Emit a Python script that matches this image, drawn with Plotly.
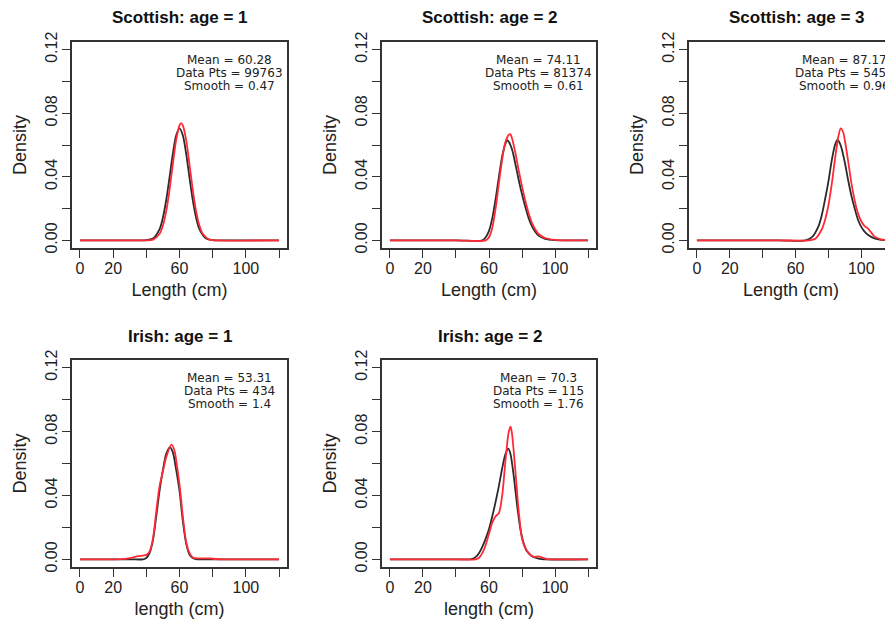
import plotly.graph_objects as go

# ---------------- data ----------------
titles = ["Scottish: age = 1", "Scottish: age = 2", "Scottish: age = 3",
          "Irish: age = 1", "Irish: age = 2"]
xtitles = ["Length (cm)", "Length (cm)", "Length (cm)", "length (cm)", "length (cm)"]
means = ["60.28", "74.11", "87.17", "53.31", "70.3"]
npts = ["99763", "81374", "5456", "434", "115"]
smooths = ["0.47", "0.61", "0.96", "1.4", "1.76"]

x_tickvals = [0, 20, 40, 60, 80, 100, 120]
x_ticktext = ["0", "20", "", "60", "", "100", ""]
y_tickvals = [0.0, 0.02, 0.04, 0.06, 0.08, 0.10, 0.12]
y_ticktext = ["0.00", "", "0.04", "", "0.08", "", "0.12"]

# Scottish age 1
s1_black_x = [0, 30, 40, 44, 48, 50, 52, 54, 56, 58, 60, 62, 64, 66, 68, 70, 72, 76, 80, 90, 120]
s1_black_y = [0, 0, 0.0001, 0.0012, 0.0071, 0.0143, 0.0254, 0.0397, 0.0546, 0.0661, 0.0705,
              0.0661, 0.0546, 0.0397, 0.0254, 0.0143, 0.0071, 0.0012, 0.0001, 0, 0]
s1_red_x = [0, 30, 40, 44, 48, 50, 52, 54, 56, 58, 60, 61, 62, 64, 66, 68, 70, 72, 74, 78, 84, 120]
s1_red_y = [0, 0, 0, 0.0005, 0.0041, 0.0093, 0.0184, 0.0318, 0.0480, 0.0632, 0.0724, 0.0737,
            0.0724, 0.0632, 0.0480, 0.0318, 0.0184, 0.0093, 0.0041, 0.0005, 0, 0]

# Scottish age 2
s2_black_x = [0, 40, 56, 58, 60, 62, 64, 66, 68, 70, 71, 72, 74, 76, 78, 80, 82, 84, 86, 88, 90, 94, 100, 120]
s2_black_y = [0, 0, 0, 0.002, 0.006, 0.014, 0.026, 0.040, 0.053, 0.061, 0.063, 0.062, 0.057, 0.048,
              0.038, 0.029, 0.021, 0.014, 0.009, 0.0055, 0.003, 0.001, 0.0002, 0]
s2_red_x = [0, 40, 58, 60, 62, 64, 66, 68, 70, 72, 73, 74, 76, 78, 80, 82, 84, 86, 88, 90, 94, 100, 120]
s2_red_y = [0, 0, 0, 0.002, 0.008, 0.020, 0.036, 0.051, 0.062, 0.0665, 0.0667, 0.064, 0.055, 0.044,
            0.034, 0.025, 0.017, 0.011, 0.007, 0.004, 0.0015, 0.0003, 0]

# Scottish age 3
s3_black_x = [0, 50, 66, 70, 74, 76, 78, 80, 82, 84, 85.5, 87, 88, 90, 92, 94, 96, 98, 100, 102, 104, 108, 112, 120]
s3_black_y = [0, 0, 0, 0.002, 0.009, 0.016, 0.026, 0.037, 0.050, 0.060, 0.0634, 0.061, 0.058, 0.049,
              0.038, 0.028, 0.020, 0.013, 0.0085, 0.0055, 0.0035, 0.0012, 0.0003, 0]
s3_red_x = [0, 50, 68, 72, 76, 78, 80, 82, 84, 86, 87.5, 89, 90, 92, 94, 96, 98, 100, 102, 104, 106, 108, 112, 116, 120]
s3_red_y = [0, 0, 0, 0.001, 0.007, 0.013, 0.022, 0.035, 0.051, 0.065, 0.0704, 0.068, 0.063, 0.050,
            0.036, 0.025, 0.017, 0.012, 0.009, 0.0075, 0.005, 0.0025, 0.0007, 0.0001, 0]

# Irish age 1
i1_black_x = [0, 30, 38, 40, 42, 44, 46, 48, 50, 52, 54.2, 56, 58, 60, 62, 64, 66, 68, 70, 74, 120]
i1_black_y = [0, 0, 0, 0.0008, 0.004, 0.012, 0.027, 0.043, 0.056, 0.066, 0.0703, 0.067, 0.056,
              0.043, 0.024, 0.010, 0.003, 0.0008, 0.0001, 0, 0]
i1_red_x = [0, 20, 25, 30, 35, 40, 42, 44, 46, 48, 50, 52, 55.2, 57, 58, 60, 62, 64, 66, 68, 72, 78, 82, 86, 120]
i1_red_y = [0, 0, 0.0001, 0.0008, 0.0020, 0.0028, 0.005, 0.013, 0.030, 0.046, 0.055, 0.064, 0.0718,
            0.068, 0.062, 0.047, 0.027, 0.011, 0.004, 0.0012, 0.0006, 0.0006, 0.0002, 0, 0]

# Irish age 2
i2_black_x = [0, 40, 48, 50, 52, 54, 56, 58, 60, 62, 64, 66, 68, 70, 71.7, 73, 75, 77, 79, 81, 83, 86, 90, 95, 120]
i2_black_y = [0, 0, 0, 0.0003, 0.0015, 0.004, 0.008, 0.013, 0.019, 0.027, 0.036, 0.046, 0.057, 0.066,
              0.0693, 0.066, 0.052, 0.034, 0.019, 0.010, 0.005, 0.002, 0.0005, 0, 0]
i2_red_x = [0, 40, 52, 54, 56, 58, 60, 62, 64, 66, 68, 70, 72, 73.1, 74, 76, 78, 80, 82, 84, 86, 88, 90, 92, 95, 98, 120]
i2_red_y = [0, 0, 0, 0.001, 0.004, 0.009, 0.016, 0.023, 0.027, 0.029, 0.040, 0.062, 0.080, 0.083,
            0.078, 0.055, 0.030, 0.013, 0.007, 0.004, 0.002, 0.0015, 0.0019, 0.0012, 0.0002, 0, 0]

black_series = [(s1_black_x, s1_black_y), (s2_black_x, s2_black_y), (s3_black_x, s3_black_y),
                (i1_black_x, i1_black_y), (i2_black_x, i2_black_y)]
red_series = [(s1_red_x, s1_red_y), (s2_red_x, s2_red_y), (s3_red_x, s3_red_y),
              (i1_red_x, i1_red_y), (i2_red_x, i2_red_y)]

# ---------------- layout ----------------
# the page body has an 8px default margin, so the figure is offset by (8, 8)
OFF = 8
W, H = 893 - OFF, 621 - OFF
col_px = [(72 - OFF, 287 - OFF), (382 - OFF, 596 - OFF), (689 - OFF, 893 - OFF)]
row_px = [(42 - OFF, 248 - OFF), (360 - OFF, 567 - OFF)]
panels = [(0, 0), (0, 1), (0, 2), (1, 0), (1, 1)]

FONT = "Liberation Sans, Arial, Helvetica, sans-serif"
AXC = "#333333"

fig = go.Figure()
layout = dict(width=W, height=H, margin=dict(l=0, r=0, t=0, b=0, autoexpand=False),
              paper_bgcolor="white", plot_bgcolor="white", showlegend=False,
              font=dict(family=FONT, color="#222222"))
annotations = []

for i, (r, c) in enumerate(panels):
    k = i + 1
    xa = "xaxis" if k == 1 else f"xaxis{k}"
    ya = "yaxis" if k == 1 else f"yaxis{k}"
    xref = "x" if k == 1 else f"x{k}"
    yref = "y" if k == 1 else f"y{k}"
    x0p, x1p = col_px[c]
    y0p, y1p = row_px[r]
    xr = [-4.8, 124.8] if c < 2 else [-4.8, 119.3]
    layout[xa] = dict(domain=[x0p / W, min(x1p / W, 1.0)], range=xr, anchor=yref, automargin=False,
                      tickmode="array", tickvals=x_tickvals, ticktext=x_ticktext,
                      ticks="outside", ticklen=8, tickwidth=1.2, tickcolor=AXC,
                      ticklabelstandoff=-3,
                      showline=True, linecolor=AXC, linewidth=1.5, mirror=True,
                      showgrid=False, zeroline=False,
                      tickfont=dict(size=16, color="#222222"),
                      title=dict(text=xtitles[i], font=dict(size=18, color="#222222"), standoff=7))
    layout[ya] = dict(domain=[1 - y1p / H, 1 - y0p / H], range=[-0.0048, 0.1248], anchor=xref,
                      automargin=False,
                      tickmode="array", tickvals=y_tickvals, ticktext=y_ticktext, tickangle=-90,
                      ticks="outside", ticklen=8, tickwidth=1.2, tickcolor=AXC,
                      ticklabelstandoff=-1,
                      showline=True, linecolor=AXC, linewidth=1.5,
                      mirror=(c < 2), showgrid=False, zeroline=False,
                      tickfont=dict(size=16, color="#222222"),
                      title=dict(text="Density", font=dict(size=18, color="#222222"), standoff=12))
    bx, by = black_series[i]
    rx, ry = red_series[i]
    fig.add_trace(go.Scatter(x=bx, y=by, mode="lines", xaxis=xref, yaxis=yref,
                             line=dict(color="#2a2a2a", width=1.8, shape="spline", smoothing=0.8)))
    fig.add_trace(go.Scatter(x=rx, y=ry, mode="lines", xaxis=xref, yaxis=yref,
                             line=dict(color="#ff2a35", width=1.8, shape="spline", smoothing=0.8)))
    # panel title
    annotations.append(dict(text="<b>" + titles[i] + "</b>", xref="paper", yref="paper",
                            x=(x0p + 107.5) / W, y=1 - (y0p - 24) / H,
                            xanchor="center", yanchor="middle", showarrow=False,
                            font=dict(size=17, color="#111111")))
    # stats text
    for j, txt in enumerate(["Mean = " + means[i], "Data Pts = " + npts[i],
                             "Smooth = " + smooths[i]]):
        annotations.append(dict(text=txt, xref=xref, yref=yref, x=90,
                                y=[0.1137, 0.1055, 0.0974][j], borderpad=0,
                                xanchor="center", yanchor="middle", showarrow=False,
                                font=dict(size=12, color="#222222", family="DejaVu Sans, sans-serif")))

layout["annotations"] = annotations
fig.update_layout(**layout)
fig.write_html("out.html")
